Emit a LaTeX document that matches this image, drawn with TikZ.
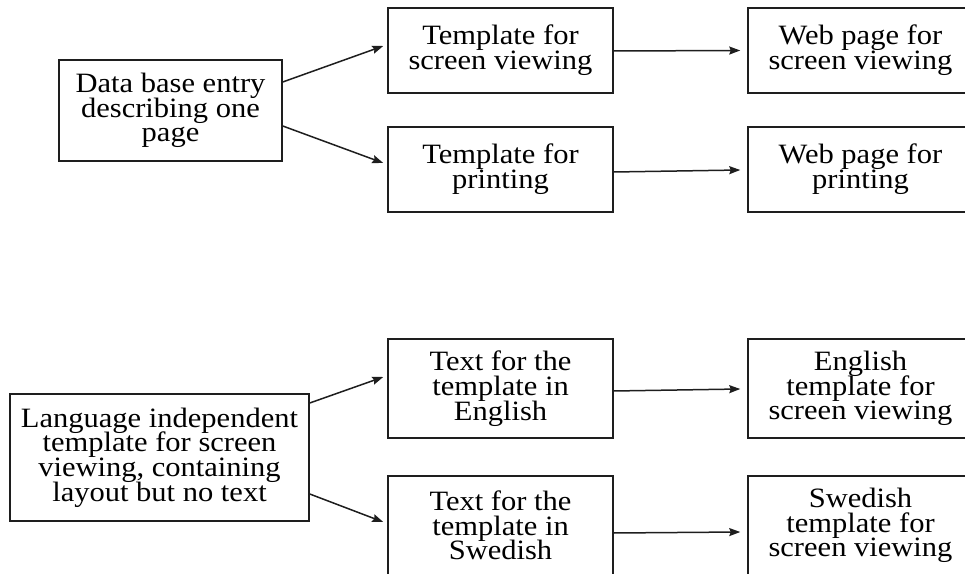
\documentclass[tikz,border=0pt]{standalone}
\usepackage{fontspec}
\setmainfont{Liberation Serif}[FakeStretch=1.09]
\usetikzlibrary{arrows.meta}
\definecolor{ink}{RGB}{30,30,30}
\tikzset{
  box/.style={draw=ink, line width=1.5pt, inner sep=0pt, align=center,
    minimum width=225pt, text=black,
    font={\fontsize{28}{24.7}\selectfont\lineskiplimit=-100pt\lineskip=0pt}},
  conn/.style={draw=ink, line width=1.5pt, -{Stealth[length=11pt,width=8pt,inset=1.5pt]}}
}
\begin{document}
\begin{tikzpicture}[x=1pt,y=1pt]
\useasboundingbox (0,0) rectangle (965,573);
\node[box, minimum width=223pt, minimum height=101pt] (A) at (170.5,462.5) {Data base entry\\describing one\\page};
\node[box, minimum height=85pt] (B) at (500.5,522.5) {Template for\\screen viewing};
\node[box, minimum height=85pt] (C) at (860.5,522.5) {Web page for\\screen viewing};
\node[box, minimum height=85pt] (D) at (500.5,403.5) {Template for\\printing};
\node[box, minimum height=85pt] (E) at (860.5,403.5) {Web page for\\printing};
\node[box, minimum width=299pt, minimum height=127pt] (F) at (159.5,115.5) {Language independent\\template for screen\\viewing, containing\\layout but no text};
\node[box, minimum height=99pt] (G) at (500.5,184.5) {Text for the\\template in\\English};
\node[box, minimum height=99pt] (H) at (860.5,184.5) {English\\template for\\screen viewing};
\node[box, minimum height=99pt] (I) at (500.5,47.5) {Text for the\\template in\\Swedish};
\node[box, minimum height=99pt] (J) at (860.5,47.5) {Swedish\\template for\\screen viewing};
\draw[conn] ([yshift=28.5pt]A.east) -- ([xshift=-4pt,yshift=4.5pt]B.west);
\draw[conn] ([yshift=-15.5pt]A.east) -- ([xshift=-4pt,yshift=6.5pt]D.west);
\draw[conn] ([yshift=-0.5pt]B.east) -- ([xshift=-7pt]C.west);
\draw[conn] ([yshift=-2.5pt]D.east) -- ([xshift=-7pt,yshift=-0.5pt]E.west);
\draw[conn] ([yshift=54.5pt]F.east) -- ([xshift=-4pt,yshift=11.5pt]G.west);
\draw[conn] ([yshift=-36.5pt]F.east) -- ([xshift=-4pt,yshift=3.5pt]I.west);
\draw[conn] ([yshift=-2.5pt]G.east) -- ([xshift=-7pt,yshift=-0.5pt]H.west);
\draw[conn] ([yshift=-7.5pt]I.east) -- ([xshift=-7pt,yshift=-6.5pt]J.west);
\end{tikzpicture}
\end{document}
